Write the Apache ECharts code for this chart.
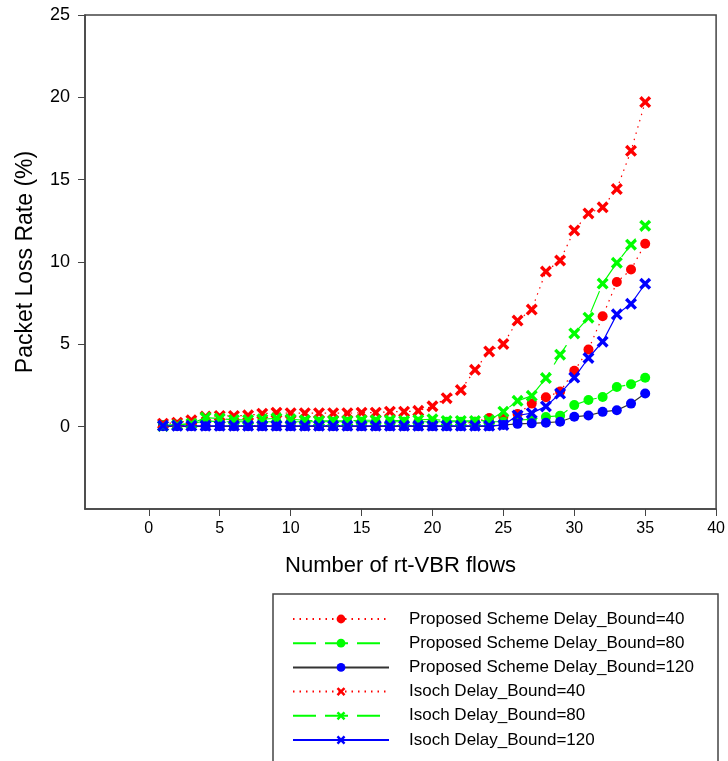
<!DOCTYPE html>
<html>
<head>
<meta charset="utf-8">
<script src="https://cdn.jsdelivr.net/npm/echarts@6/dist/echarts.min.js"></script>
<style>
  html, body { margin: 0; padding: 0; background: #fff; }
  #chart { width: 728px; height: 761px; }
</style>
</head>
<body>
<div id="chart"></div>
<script>
// number of rt-VBR flows
var flows = [1, 2, 3, 4, 5, 6, 7, 8, 9, 10, 11, 12, 13, 14, 15, 16, 17, 18,
  19, 20, 21, 22, 23, 24, 25, 26, 27, 28, 29, 30, 31, 32, 33, 34, 35];

// packet loss rate (%)
var proposed40 = [0.05, 0.05, 0.05, 0.05, 0.05, 0.05, 0.05, 0.05, 0.05, 0.05, 0.05, 0.05,
  0.05, 0.05, 0.05, 0.05, 0.05, 0.05, 0.05, 0.05, 0.1, 0.15, 0.3, 0.53, 0.6, 0.77,
  1.4, 1.79, 2.13, 3.39, 4.68, 6.71, 8.78, 9.54, 11.11];
var proposed80 = [0.1, 0.12, 0.18, 0.35, 0.3, 0.3, 0.3, 0.3, 0.3, 0.3, 0.3, 0.3,
  0.3, 0.3, 0.3, 0.3, 0.3, 0.3, 0.3, 0.3, 0.3, 0.3, 0.3, 0.3, 0.3, 0.4,
  0.45, 0.59, 0.67, 1.31, 1.62, 1.8, 2.41, 2.58, 2.97];
var proposed120 = [0.02, 0.02, 0.02, 0.02, 0.02, 0.02, 0.02, 0.02, 0.02, 0.02, 0.02, 0.02,
  0.02, 0.02, 0.02, 0.02, 0.02, 0.02, 0.02, 0.02, 0.02, 0.02, 0.02, 0.02, 0.1, 0.17,
  0.2, 0.24, 0.3, 0.6, 0.68, 0.9, 1.0, 1.4, 2.01];
var isoch40 = [0.18, 0.24, 0.39, 0.61, 0.65, 0.65, 0.69, 0.79, 0.85, 0.82, 0.82, 0.82,
  0.82, 0.82, 0.85, 0.85, 0.91, 0.91, 0.96, 1.24, 1.73, 2.22, 3.45, 4.57, 5.02, 6.44,
  7.11, 9.42, 10.09, 11.92, 12.95, 13.32, 14.43, 16.75, 19.71];
var isoch80 = [0.04, 0.1, 0.18, 0.55, 0.49, 0.41, 0.41, 0.45, 0.51, 0.45, 0.39, 0.35,
  0.35, 0.35, 0.39, 0.39, 0.39, 0.35, 0.41, 0.45, 0.35, 0.35, 0.35, 0.39, 0.91, 1.57,
  1.87, 2.95, 4.37, 5.66, 6.62, 8.69, 9.95, 11.05, 12.2];
var isoch120 = [0.05, 0.05, 0.05, 0.05, 0.05, 0.05, 0.05, 0.05, 0.05, 0.05, 0.05, 0.05,
  0.05, 0.05, 0.05, 0.05, 0.05, 0.05, 0.05, 0.05, 0.05, 0.05, 0.05, 0.05, 0.1, 0.68,
  0.82, 1.23, 2.01, 2.98, 4.17, 5.16, 6.82, 7.46, 8.68];

var xTicks = [0, 5, 10, 15, 20, 25, 30, 35, 40];
var yTicks = [0, 5, 10, 15, 20, 25];

var FONT = 'Liberation Sans, Arial, sans-serif';
var CROSS = 'path://M2,0 L5,3 L8,0 L10,2 L7,5 L10,8 L8,10 L5,7 L2,10 L0,8 L3,5 L0,2 Z';

function pairs(ys) {
  return flows.map(function (x, i) { return [x, ys[i]]; });
}

// one line series
function makeSeries(name, ys, symbol, size, markColor, lineColor, dash, z) {
  return {
    name: name,
    type: 'line',
    data: pairs(ys),
    symbol: symbol,
    symbolSize: size,
    showAllSymbol: true,
    z: z,
    itemStyle: { color: markColor },
    lineStyle: { color: lineColor, width: 1.2, type: dash },
    emphasis: { disabled: true },
    animation: false
  };
}

var chart = echarts.init(document.getElementById('chart'));

chart.setOption({
  backgroundColor: '#fff',
  animation: false,
  grid: {
    left: 85, top: 15, right: 10, bottom: 252,
    show: true, borderColor: '#444', borderWidth: 1.5
  },
  xAxis: {
    type: 'value',
    min: -4.5, max: 40,
    name: 'Number of rt-VBR flows',
    nameLocation: 'middle',
    nameGap: 46,
    nameTextStyle: { fontFamily: FONT, fontSize: 22, color: '#000' },
    axisLine: { onZero: false, lineStyle: { color: '#444', width: 1.5 } },
    axisTick: { customValues: xTicks, length: 7, lineStyle: { color: '#444' } },
    axisLabel: { customValues: xTicks, margin: 12, fontFamily: FONT, fontSize: 16, color: '#000' },
    splitLine: { show: false }
  },
  yAxis: {
    type: 'value',
    min: -5, max: 25,
    name: 'Packet Loss Rate (%)',
    nameLocation: 'middle',
    nameGap: 48,
    nameTextStyle: { fontFamily: FONT, fontSize: 23, color: '#000' },
    axisLine: { show: true, onZero: false, lineStyle: { color: '#444', width: 1.5 } },
    axisTick: { show: true, customValues: yTicks, length: 7, lineStyle: { color: '#444' } },
    axisLabel: { customValues: yTicks, margin: 15, fontFamily: FONT, fontSize: 18, color: '#000' },
    splitLine: { show: false }
  },
  legend: {
    orient: 'vertical',
    left: 287, top: 605,
    itemWidth: 96, itemHeight: 11,
    itemGap: 6.2,
    selectedMode: false,
    textStyle: { fontFamily: FONT, fontSize: 17, color: '#000', lineHeight: 18, padding: [0, 0, 0, 15] }
  },
  graphic: [{
    type: 'rect',
    shape: { x: 273, y: 594, width: 445, height: 200 },
    style: { fill: 'none', stroke: '#444', lineWidth: 1.5 },
    silent: true
  }],
  series: [
    makeSeries('Proposed Scheme Delay_Bound=40', proposed40, 'circle', 10, '#ff0000', '#ff0000', [1.5, 5], 2),
    makeSeries('Proposed Scheme Delay_Bound=80', proposed80, 'circle', 10, '#00ff00', '#00ff00', [23, 9], 3),
    makeSeries('Proposed Scheme Delay_Bound=120', proposed120, 'circle', 10, '#0000ff', '#333333', 'solid', 4),
    makeSeries('Isoch Delay_Bound=40', isoch40, CROSS, 12, '#ff0000', '#ff0000', [1.5, 5], 5),
    makeSeries('Isoch Delay_Bound=80', isoch80, CROSS, 12, '#00ff00', '#00ff00', [23, 9], 6),
    makeSeries('Isoch Delay_Bound=120', isoch120, CROSS, 12, '#0000ff', '#0000ff', 'solid', 7)
  ]
});
</script>
</body>
</html>
